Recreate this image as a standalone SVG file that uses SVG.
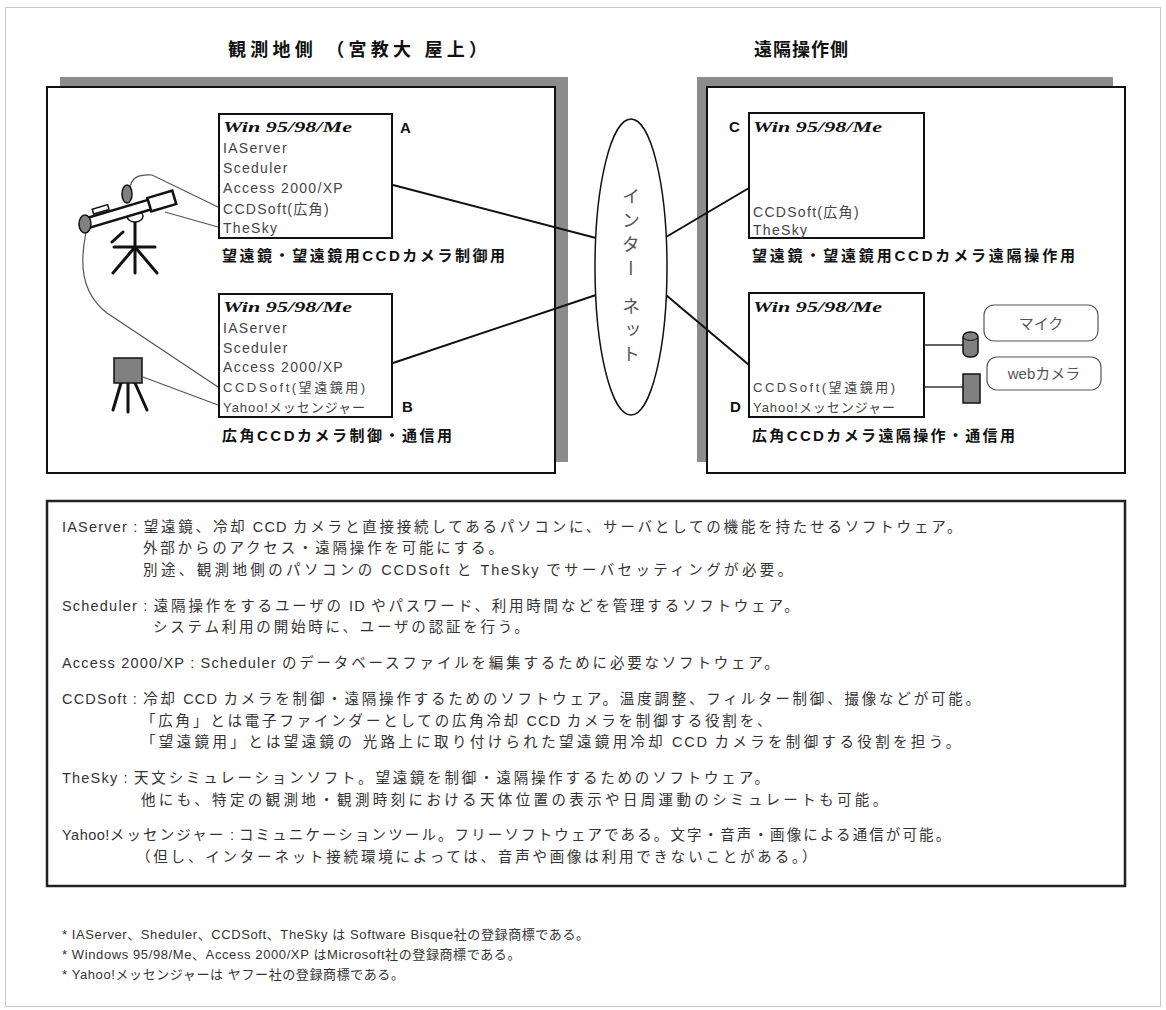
<svg xmlns="http://www.w3.org/2000/svg" width="1166" height="1010" viewBox="0 0 1166 1010">
<style>
  text { font-family: "Liberation Sans", "Noto Sans CJK JP", sans-serif; }
  .title { font-size: 18px; font-weight: bold; fill: #111; }
  .shadow { fill: #8c8c8c; }
  .panel { fill: #fff; stroke: #111; stroke-width: 2; }
  .pc { fill: #fff; stroke: #111; stroke-width: 2; }
  .os { font-family: "Liberation Serif", serif; font-style: italic; font-weight: bold; font-size: 14.5px; fill: #111; }
  .sw { font-size: 14px; fill: #444; letter-spacing: 1.3px; }
  .sws { font-size: 13px; fill: #444; }
  .tag { font-size: 15px; font-weight: bold; fill: #111; }
  .cap { font-size: 15px; font-weight: bold; fill: #111; }
  .net { stroke: #111; stroke-width: 2; fill: none; }
  .cable { stroke: #555; stroke-width: 1.2; fill: none; }
  .wire { stroke: #333; stroke-width: 1.5; fill: none; }
  .dev { fill: #808080; stroke: #111; stroke-width: 1.5; }
  .leg { stroke: #111; stroke-width: 3; stroke-linecap: round; fill: none; }
  .lbl { fill: #fff; stroke: #555; stroke-width: 1.2; }
  .lbltext { font-size: 15px; fill: #555; text-anchor: middle; }
  .desc { font-size: 14.5px; fill: #333; letter-spacing: 2.8px; }
  .en { letter-spacing: 1.2px; }
  .note { font-size: 13px; fill: #333; letter-spacing: 0.6px; }
</style>

<!-- page frame -->
<rect x="5.5" y="7.5" width="1155" height="999" fill="#fff" stroke="#c8c8c8" stroke-width="1"/>

<!-- section headings -->
<g id="obs-title"><text class="title" x="228" y="56" textLength="259" lengthAdjust="spacing">観測地側 （宮教大 屋上）</text></g>
<g id="remote-title"><text class="title" x="754" y="56" textLength="94" lengthAdjust="spacing">遠隔操作側</text></g>

<!-- observation site panel -->
<g id="obs-site">
  <rect class="shadow" x="60" y="77" width="508" height="385"/>
  <rect class="panel" x="47" y="87" width="508" height="386"/>
</g>

<!-- remote operation panel -->
<g id="remote-site">
  <rect class="shadow" x="697" y="77" width="416" height="385"/>
  <rect class="panel" x="707" y="87" width="418" height="386"/>
</g>

<!-- connectors: cables and network links -->
<g id="connectors">
  <path class="cable" d="M130 190 C130 178 138 174 152 175 L218 207"/>
  <path class="cable" d="M165 212 L218 227"/>
  <path class="cable" d="M86 232 C80 262 80 292 107 313 L218 387"/>
  <path class="cable" d="M143 377 L218 405"/>
  <path class="net" d="M393 185 L596 238"/>
  <path class="net" d="M393 363 L596 295"/>
  <path class="net" d="M666 237 L749 188"/>
  <path class="net" d="M666 295 L749 365"/>
  <path class="wire" d="M924 345 L963 345"/>
  <path class="wire" d="M924 387 L963 387"/>
</g>

<!-- telescope on tripod -->
<g id="telescope">
  <path class="leg" d="M135 222 L135 273 M114 247 L155 247 M135 247 L113 273 M135 247 L157 273 M112 242 L123 232"/>
  <ellipse cx="135" cy="216" rx="8" ry="6" fill="#fff" stroke="#111" stroke-width="1.5"/>
  <g transform="translate(88 223) rotate(-16.6)">
    <rect x="8" y="-12" width="16" height="5" fill="#fff" stroke="#111" stroke-width="1.5"/>
    <rect x="0" y="-5" width="68" height="10" fill="#fff" stroke="#111" stroke-width="2.5"/>
    <rect x="64" y="-7" width="26" height="14" fill="#fff" stroke="#111" stroke-width="2.5"/>
  </g>
  <ellipse class="dev" cx="85" cy="224" rx="6" ry="9"/>
  <ellipse class="dev" cx="127" cy="194" rx="5" ry="9"/>
</g>

<!-- wide-angle camera on tripod -->
<g id="wide-cam">
  <path class="leg" d="M121 383 L113 410 M128 383 L128 412 M135 383 L147 410"/>
  <rect class="dev" x="114" y="358" width="28" height="25"/>
</g>

<!-- PC A -->
<g id="pc-a">
  <rect class="pc" x="219" y="114" width="173" height="124"/>
  <text class="os" x="223" y="132" textLength="129" lengthAdjust="spacingAndGlyphs">Win 95/98/Me</text>
  <text class="sw" x="223" y="153">IAServer</text>
  <text class="sw" x="223" y="173">Sceduler</text>
  <text class="sw" x="223" y="193">Access 2000/XP</text>
  <text class="sw" x="223" y="214">CCDSoft(広角)</text>
  <text class="sw" x="223" y="233">TheSky</text>
  <text class="tag" x="400" y="133">A</text>
  <text class="cap" x="222" y="261" textLength="283" lengthAdjust="spacing">望遠鏡・望遠鏡用CCDカメラ制御用</text>
</g>

<!-- PC B -->
<g id="pc-b">
  <rect class="pc" x="219" y="294" width="173" height="123"/>
  <text class="os" x="223" y="312" textLength="129" lengthAdjust="spacingAndGlyphs">Win 95/98/Me</text>
  <text class="sw" x="223" y="333">IAServer</text>
  <text class="sw" x="223" y="353">Sceduler</text>
  <text class="sw" x="223" y="372">Access 2000/XP</text>
  <text class="sws" x="223" y="392" textLength="142" lengthAdjust="spacing">CCDSoft(望遠鏡用)</text>
  <text class="sws" x="223" y="412" textLength="142" lengthAdjust="spacing">Yahoo!メッセンジャー</text>
  <text class="tag" x="402" y="412">B</text>
  <text class="cap" x="222" y="441" textLength="230" lengthAdjust="spacing">広角CCDカメラ制御・通信用</text>
</g>

<!-- Internet -->
<g id="internet">
  <ellipse cx="631" cy="267" rx="36" ry="148" fill="#fff" stroke="#111" stroke-width="1.5"/>
  <text x="631" y="187" style="writing-mode: vertical-rl; font-family: 'Noto Sans CJK JP', sans-serif; font-size: 18px; fill: #555; letter-spacing: 6px;">インタ<tspan style="letter-spacing: 20px;">ー</tspan>ネット</text>
</g>

<!-- PC C -->
<g id="pc-c">
  <rect class="pc" x="749" y="113" width="175" height="125"/>
  <text class="os" x="753" y="132" textLength="129" lengthAdjust="spacingAndGlyphs">Win 95/98/Me</text>
  <text class="sw" x="753" y="217">CCDSoft(広角)</text>
  <text class="sw" x="753" y="235">TheSky</text>
  <text class="tag" x="729" y="132">C</text>
  <text class="cap" x="752" y="261" textLength="323" lengthAdjust="spacing">望遠鏡・望遠鏡用CCDカメラ遠隔操作用</text>
</g>

<!-- PC D -->
<g id="pc-d">
  <rect class="pc" x="749" y="293" width="175" height="124"/>
  <text class="os" x="753" y="312" textLength="129" lengthAdjust="spacingAndGlyphs">Win 95/98/Me</text>
  <text class="sws" x="753" y="392" textLength="142" lengthAdjust="spacing">CCDSoft(望遠鏡用)</text>
  <text class="sws" x="753" y="412" textLength="142" lengthAdjust="spacing">Yahoo!メッセンジャー</text>
  <text class="tag" x="730" y="412">D</text>
  <text class="cap" x="752" y="441" textLength="263" lengthAdjust="spacing">広角CCDカメラ遠隔操作・通信用</text>
</g>

<!-- microphone -->
<g id="mic">
  <rect class="dev" x="963" y="332" width="15" height="25" rx="7" ry="5"/>
  <path d="M963 338 Q970.5 343 978 338" fill="none" stroke="#111" stroke-width="1"/>
  <rect class="lbl" x="984" y="305" width="114" height="36" rx="10"/>
  <text class="lbltext" x="1041" y="329">マイク</text>
</g>

<!-- web camera -->
<g id="webcam">
  <rect class="dev" x="963" y="374" width="17" height="29"/>
  <rect class="lbl" x="987" y="357" width="114" height="33" rx="10"/>
  <text class="lbltext" x="1044" y="379">webカメラ</text>
</g>

<!-- software descriptions -->
<g id="notes">
  <rect x="47" y="501" width="1078" height="385" fill="#fff" stroke="#222" stroke-width="2.5"/>
  <text class="desc" x="62" y="532"><tspan class="en">IAServer : </tspan>望遠鏡、冷却<tspan class="en"> CCD </tspan>カメラと直接接続してあるパソコンに、サーバとしての機能を持たせるソフトウェア。</text>
  <text class="desc" x="143" y="553">外部からのアクセス・遠隔操作を可能にする。</text>
  <text class="desc" x="143" y="575" textLength="652" lengthAdjust="spacing">別途、観測地側のパソコンの<tspan class="en"> CCDSoft </tspan>と<tspan class="en"> TheSky </tspan>でサーバセッティングが必要。</text>
  <text class="desc" x="62" y="611"><tspan class="en">Scheduler : </tspan>遠隔操作をするユーザの<tspan class="en"> ID </tspan>やパスワード、利用時間などを管理するソフトウェア。</text>
  <text class="desc" x="153" y="632">システム利用の開始時に、ユーザの認証を行う。</text>
  <text class="desc" x="62" y="668"><tspan class="en">Access 2000/XP : Scheduler </tspan>のデータベースファイルを編集するために必要なソフトウェア。</text>
  <text class="desc" x="62" y="704"><tspan class="en">CCDSoft : </tspan>冷却<tspan class="en"> CCD </tspan>カメラを制御・遠隔操作するためのソフトウェア。温度調整、フィルター制御、撮像などが可能。</text>
  <text class="desc" x="141" y="726">「広角」とは電子ファインダーとしての広角冷却<tspan class="en"> CCD </tspan>カメラを制御する役割を、</text>
  <text class="desc" x="141" y="747" textLength="822" lengthAdjust="spacing">「望遠鏡用」とは望遠鏡の 光路上に取り付けられた望遠鏡用冷却<tspan class="en"> CCD </tspan>カメラを制御する役割を担う。</text>
  <text class="desc" x="62" y="783"><tspan class="en">TheSky : </tspan>天文シミュレーションソフト。望遠鏡を制御・遠隔操作するためのソフトウェア。</text>
  <text class="desc" x="141" y="805" textLength="749" lengthAdjust="spacing">他にも、特定の観測地・観測時刻における天体位置の表示や日周運動のシミュレートも可能。</text>
  <text class="desc" x="62" y="840" textLength="891" lengthAdjust="spacing"><tspan class="en">Yahoo!</tspan>メッセンジャー<tspan class="en"> : </tspan>コミュニケーションツール。フリーソフトウェアである。文字・音声・画像による通信が可能。</text>
  <text class="desc" x="136" y="862">（但し、インターネット接続環境によっては、音声や画像は利用できないことがある。）</text>
</g>

<!-- trademark notes -->
<g id="footnotes">
  <text class="note" x="62" y="939">* IAServer、Sheduler、CCDSoft、TheSky は Software Bisque社の登録商標である。</text>
  <text class="note" x="62" y="959">* Windows 95/98/Me、Access 2000/XP はMicrosoft社の登録商標である。</text>
  <text class="note" x="62" y="979">* Yahoo!メッセンジャーは ヤフー社の登録商標である。</text>
</g>
</svg>
